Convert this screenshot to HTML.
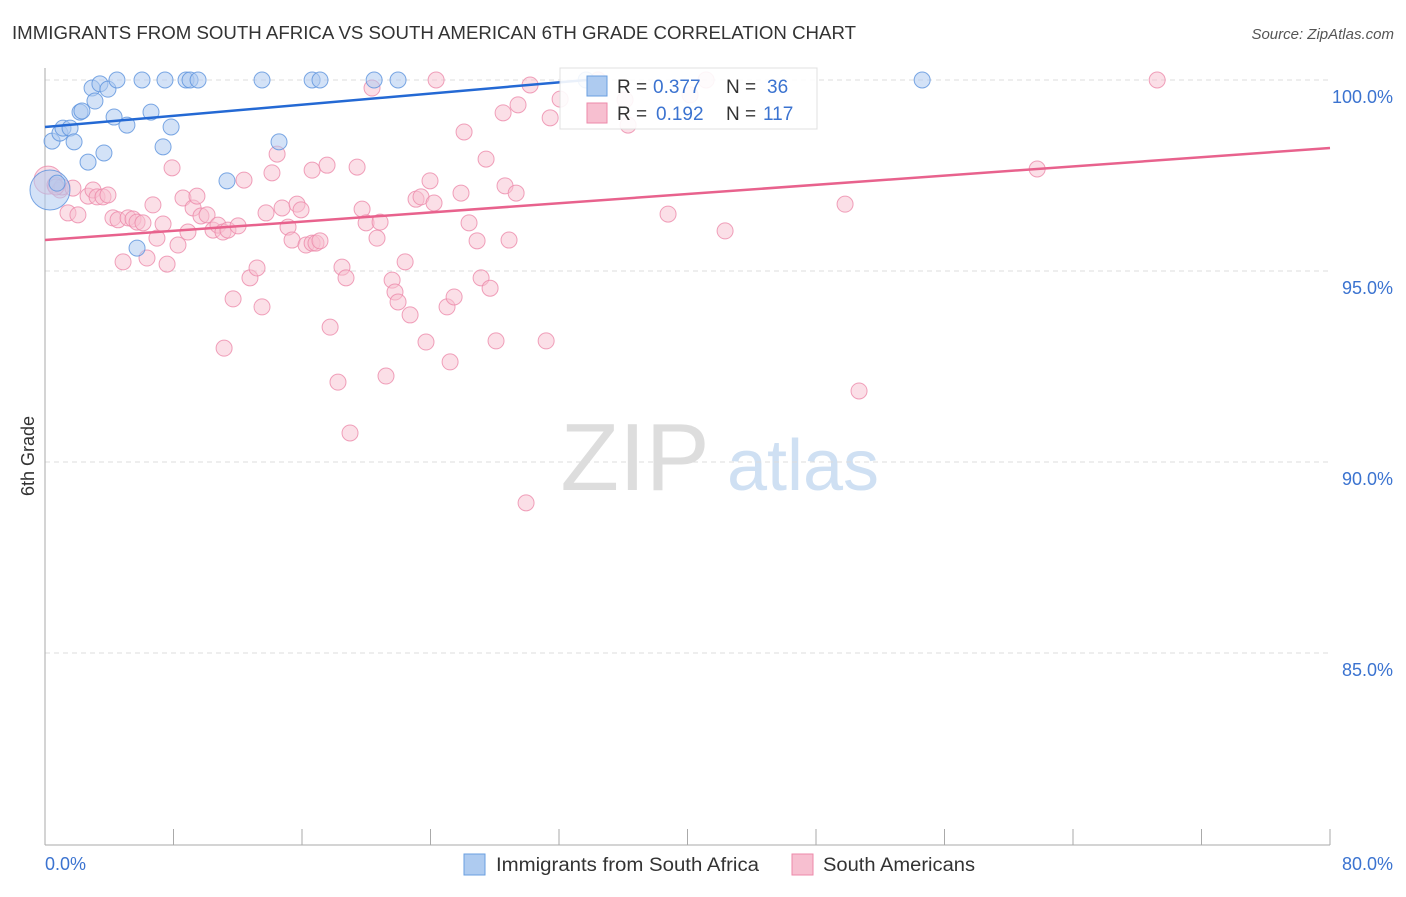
<!DOCTYPE html>
<html><head><meta charset="utf-8"><style>
body{margin:0;background:#fff;font-family:"Liberation Sans",sans-serif;}
svg text{font-family:"Liberation Sans",sans-serif;}
</style></head><body>
<svg width="1406" height="892" xmlns="http://www.w3.org/2000/svg">
<text x="12" y="39" font-size="18" fill="#333" textLength="844" lengthAdjust="spacingAndGlyphs">IMMIGRANTS FROM SOUTH AFRICA VS SOUTH AMERICAN 6TH GRADE CORRELATION CHART</text>
<text x="1394" y="39" font-size="15" fill="#555" font-style="italic" text-anchor="end">Source: ZipAtlas.com</text>
<g>
<text x="635" y="490" font-size="96" fill="#ddd" text-anchor="middle" font-family="Liberation Serif">ZIP</text>
<text x="803" y="490" font-size="72" fill="#cfe0f3" text-anchor="middle">atlas</text>
</g>
<g id="grid"></g>
<g id="axes"></g>
<g id="pts"></g>
<g id="lines"></g>
<text transform="translate(34,456) rotate(-90)" font-size="18" fill="#333" text-anchor="middle">6th Grade</text>
<g>
<rect x="560" y="68" width="257" height="61" fill="#fff" stroke="#ddd" opacity="0.9"/>
<rect x="587" y="76" width="20" height="20" fill="#aecbf0" stroke="#6a9fe0"/>
<rect x="587" y="103" width="20" height="20" fill="#f7bfd0" stroke="#ec8aaa"/>
<text x="617" y="93" font-size="19" fill="#333">R =</text>
<text x="653" y="93" font-size="19" fill="#3b73d0">0.377</text>
<text x="726" y="93" font-size="19" fill="#333">N =</text>
<text x="767" y="93" font-size="19" fill="#3b73d0">36</text>
<text x="617" y="120" font-size="19" fill="#333">R =</text>
<text x="656" y="120" font-size="19" fill="#3b73d0">0.192</text>
<text x="726" y="120" font-size="19" fill="#333">N =</text>
<text x="763" y="120" font-size="19" fill="#3b73d0">117</text>
</g>
<g>
<rect x="464" y="854" width="21" height="21" fill="#aecbf0" stroke="#6a9fe0"/>
<text x="496" y="871" font-size="19" fill="#333" textLength="263" lengthAdjust="spacingAndGlyphs">Immigrants from South Africa</text>
<rect x="792" y="854" width="21" height="21" fill="#f7bfd0" stroke="#ec8aaa"/>
<text x="823" y="871" font-size="19" fill="#333" textLength="152" lengthAdjust="spacingAndGlyphs">South Americans</text>
</g>
</svg>
<script>
const blueX=[0.44,0.93,1.12,1.56,1.81,2.18,2.3,2.68,2.93,3.11,3.42,3.67,3.92,4.3,4.48,5.1,6.04,6.6,7.35,7.47,7.85,8.78,9.03,9.53,11.33,13.51,14.57,16.63,17.12,20.49,21.98,33.69,54.61,5.73,0.31,0.75];
const blueY=[98.40,98.61,98.74,98.74,98.38,99.16,99.19,97.85,99.79,99.45,99.9,98.09,99.76,99.03,100,98.82,100,99.16,98.25,100,98.77,100,100,100,97.36,100,98.38,100,100,100,100,100,100,95.6,97.12,97.3];
const pinkX=[0.19,0.62,0.93,1.06,1.43,1.74,2.05,2.68,2.99,3.24,3.61,3.92,4.23,4.55,4.86,5.17,5.48,5.73,6.10,6.35,6.72,6.97,7.35,7.60,7.91,8.28,8.59,8.90,9.22,9.46,9.71,10.09,10.46,10.77,11.08,11.15,11.39,11.71,12.02,12.39,12.76,13.20,13.51,13.76,14.13,14.45,14.76,15.13,15.38,15.69,15.94,16.25,16.63,16.87,17.12,16.63,17.56,17.75,18.24,18.49,18.74,18.99,19.43,19.74,19.99,20.36,20.67,20.86,21.23,21.61,21.79,21.98,22.42,22.73,23.10,23.41,23.72,23.97,24.22,24.35,25.03,25.22,25.47,25.90,26.09,26.40,26.90,27.15,27.46,27.71,28.08,28.52,28.64,28.89,29.33,29.45,29.95,30.20,31.20,31.45,32.07,34.43,36.30,38.79,41.16,42.34,49.81,50.68,61.77,69.24,0.68,36.11,40.16];
const pinkY=[97.38,97.25,97.12,97.20,96.52,97.17,96.47,96.96,97.12,96.94,96.94,96.99,96.39,96.34,95.24,96.39,96.36,96.28,96.26,95.34,96.73,95.86,96.23,95.18,97.70,95.68,96.91,96.02,96.65,96.96,96.44,96.47,96.07,96.20,96.02,92.98,96.07,94.27,96.18,97.38,94.82,95.08,94.06,96.52,97.57,98.06,96.65,96.15,95.81,96.75,96.60,95.68,95.73,95.73,95.79,97.64,97.77,93.53,92.09,95.10,94.82,90.76,97.72,96.62,96.26,99.79,95.86,96.28,92.25,94.76,94.45,94.19,95.24,93.85,96.88,96.94,93.14,97.36,96.78,100,94.06,92.62,94.32,97.04,98.64,96.26,95.79,94.82,97.93,94.55,93.17,99.14,97.23,95.81,97.04,99.35,88.93,99.87,93.17,99.01,99.50,100,98.82,96.49,100,96.05,96.75,91.86,97.67,100,97.20,99.48,99.61];
const blueTrend=[[0,98.77],[33.7,100]];
const pinkTrend=[[0,95.81],[80,98.22]];
const yTicks=[100,95,90,85];
const yTickLabels=["100.0%","95.0%","90.0%","85.0%"];
const xTicks=[0,8,16,24,32,40,48,56,64,72,80];
const NS="http://www.w3.org/2000/svg";
const X=v=>45+v*16.0625, Y=v=>80+(100-v)*38.2;
function mk(t,a,p){const e=document.createElementNS(NS,t);for(const k in a)e.setAttribute(k,a[k]);p.appendChild(e);return e;}
const grid=document.getElementById('grid'),axes=document.getElementById('axes'),pts=document.getElementById('pts'),lines=document.getElementById('lines');
yTicks.forEach((v,i)=>{
 const l=mk('line',{x1:45,x2:1330,y1:Y(v),y2:Y(v),stroke:'#ddd','stroke-dasharray':'5,4'},grid);
 
 
 const t=mk('text',{x:1393,y:Y(v)+23,'font-size':18,fill:'#3b73d0','text-anchor':'end'},axes);
 t.textContent=yTickLabels[i];
 
 
});
const ya=mk('line',{x1:45,x2:45,y1:68,y2:845,stroke:'#aaa'},axes);


const xa=mk('line',{x1:45,x2:1330,y1:845,y2:845,stroke:'#aaa'},axes);


xTicks.forEach(v=>{
 const l=mk('line',{x1:X(v),x2:X(v),y1:829,y2:845,stroke:'#aaa'},axes);
 
 
});
const xl0=mk('text',{x:45,y:870,'font-size':18,fill:'#3b73d0'},axes);xl0.textContent='0.0%';


const xl1=mk('text',{x:1393,y:870,'font-size':18,fill:'#3b73d0','text-anchor':'end'},axes);xl1.textContent='80.0%';


pinkX.forEach((v,i)=>{
 const c=mk('circle',{cx:X(v),cy:Y(pinkY[i]),r:i==0?14:8,fill:'#f7bfd0','fill-opacity':0.5,stroke:'#ec8aaa','stroke-opacity':0.8},pts);
 
 
});
blueX.forEach((v,i)=>{
 const c=mk('circle',{cx:X(v),cy:Y(blueY[i]),r:i==34?20:8,fill:'#aecbf0','fill-opacity':0.55,stroke:'#5b92dd','stroke-opacity':0.8},pts);
 
 
});
const bl=mk('line',{x1:X(blueTrend[0][0]),y1:Y(blueTrend[0][1]),x2:X(blueTrend[1][0]),y2:Y(blueTrend[1][1]),stroke:'#2469d4','stroke-width':2.5},lines);


const pl=mk('line',{x1:X(pinkTrend[0][0]),y1:Y(pinkTrend[0][1]),x2:X(pinkTrend[1][0]),y2:Y(pinkTrend[1][1]),stroke:'#e8628d','stroke-width':2.5},lines);


</script>
</body></html>
